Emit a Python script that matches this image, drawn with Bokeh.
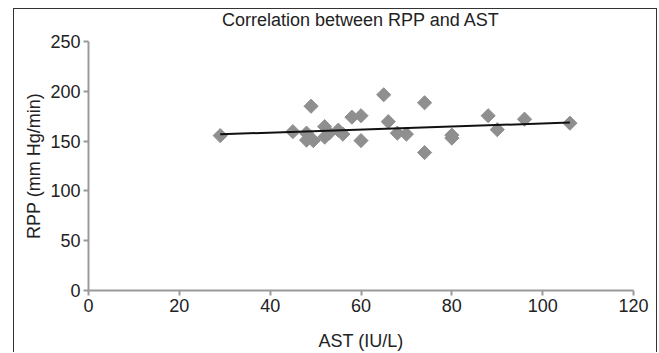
from bokeh.plotting import figure
from bokeh.models import Range1d, FixedTicker, ColumnDataSource, Title
from bokeh.embed import file_html
from bokeh.resources import INLINE
import math

# Data
ast = [29, 45, 48, 48, 49, 49.5, 52, 52, 53, 55, 56, 58, 60, 60, 65, 66, 68, 70,
       74, 74, 80, 80, 88, 90, 96, 106]
rpp = [155.5, 159.5, 158, 151, 185, 150.5, 164.5, 154, 158, 161, 157, 174, 175.5, 150.5,
       196.5, 169.5, 158, 157, 188.5, 138.5, 156, 153, 175.5, 161.5, 172, 168]
trend_x = [29, 106]
trend_y = [156.8, 168.6]
x_ticks = [0, 20, 40, 60, 80, 100, 120]
y_ticks = [0, 50, 100, 150, 200, 250]
title_text = "Correlation between RPP and AST"

FONT = "Liberation Sans"
AXIS_COLOR = "#9a9a9a"

p = figure(width=644, height=344, output_backend="svg", toolbar_location=None,
           title_location=None,
           x_range=Range1d(0, 120), y_range=Range1d(0, 250),
           min_border_left=74, min_border_right=25, min_border_top=31, min_border_bottom=61)
p.margin = (8, 0, 0, 13)
p.styles = {"border-left": "1px solid #333333", "border-top": "1px solid #333333",
            "border-right": "1px solid #333333"}

# spacer panel between frame and title, then the title itself on top
p.add_layout(Title(text=" ", text_font_size="6.5px", standoff=1), "above")
p.add_layout(Title(text=title_text, align="center", vertical_align="top", standoff=0,
                   text_font=FONT, text_font_size="18px", text_font_style="normal",
                   text_color="#222222"), "above")

p.outline_line_color = None
p.grid.grid_line_color = None

src = ColumnDataSource(dict(x=ast, y=rpp))
p.scatter("x", "y", source=src, marker="square", angle=math.pi / 4, size=10,
          fill_color="#8f8f8f", line_color="#8f8f8f")
p.line(trend_x, trend_y, line_color="#111111", line_width=2)

for ax in (p.xaxis[0], p.yaxis[0]):
    ax.axis_line_color = AXIS_COLOR
    ax.axis_line_width = 2
    ax.major_tick_line_color = AXIS_COLOR
    ax.major_tick_line_width = 2
    ax.major_tick_out = 5
    ax.major_tick_in = 0
    ax.minor_tick_line_color = None
    ax.major_label_text_font = FONT
    ax.major_label_text_font_size = "18px"
    ax.major_label_text_color = "#222222"
    ax.axis_label_text_font = FONT
    ax.axis_label_text_font_size = "18px"
    ax.axis_label_text_font_style = "normal"
    ax.axis_label_text_color = "#222222"

p.xaxis.ticker = FixedTicker(ticks=x_ticks)
p.yaxis.ticker = FixedTicker(ticks=y_ticks)
p.xaxis.axis_label = "AST (IU/L)"
p.yaxis.axis_label = "RPP (mm Hg/min)"
p.xaxis.major_label_standoff = 3
p.yaxis.major_label_standoff = 3
p.xaxis.axis_label_standoff = 16
p.yaxis.axis_label_standoff = 3

open("out.html", "w").write(file_html(p, INLINE))
